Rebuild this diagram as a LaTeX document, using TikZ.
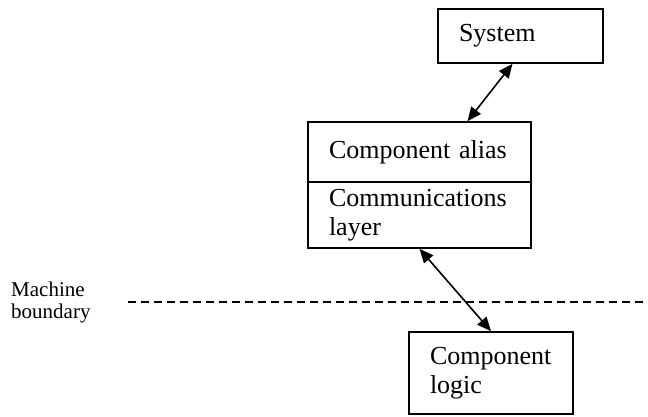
\documentclass[tikz,border=0pt]{standalone}
\usepackage{fontspec}
\setmainfont{Liberation Serif}
\usetikzlibrary{arrows.meta,calc}

\tikzset{
    unit/.style={draw, line width=1.6pt, align=left, inner xsep=21pt, inner ysep=0pt,
                 font=\fontsize{26}{29}\selectfont},
    link/.style={line width=1.6pt, {Triangle[length=14pt,width=12pt]}-{Triangle[length=14pt,width=12pt]}},
    boundary/.style={line width=1.6pt, dash pattern=on 8pt off 5pt}
}

\begin{document}
\begin{tikzpicture}[x=1pt, y=-1pt]
    \useasboundingbox (0,0) rectangle (648,416);

    \node [unit, text width=123pt, minimum height=54pt] (sys) at (520.5,36) {System};
    \node [unit, text width=181pt, minimum height=60pt] (alias) at (419.5,152) {Component alias};
    \node [unit, text width=181pt, minimum height=66pt] (comms) at (419.5,215) {Communications\\layer};
    \node [unit, text width=122pt, minimum height=82pt] (logic) at (491,373) {Component\\logic};

    \node [align=left, anchor=west, inner sep=0pt, font=\fontsize{21}{22}\selectfont] (mb) at (11,302) {Machine\\boundary};

    \coordinate (lineL) at (128,302);
    \coordinate (lineR) at (648,302);
    \draw [boundary] (lineL) -- (lineR);

    \draw [link] ($(alias.north)+(48,0)$) -- ($(sys.south)+(-8,0)$);
    \draw [link] (comms.south) -- (logic.north);
\end{tikzpicture}
\end{document}
